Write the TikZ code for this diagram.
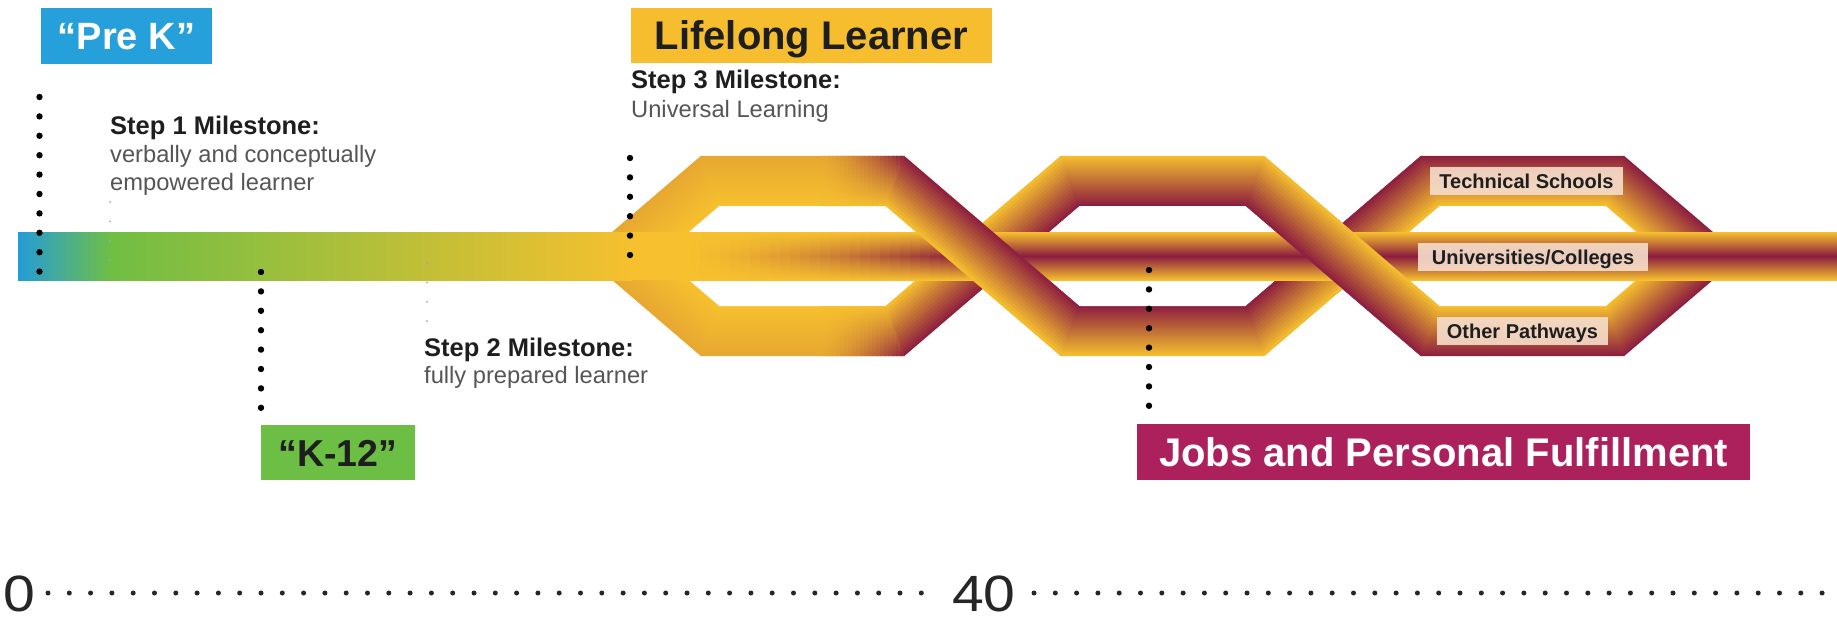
\documentclass[tikz,border=0pt]{standalone}
\usepackage{fontspec}
\setmainfont{Liberation Sans}
\newfontfamily\axisfont{Liberation Sans}[FakeStretch=1.12]
\usetikzlibrary{calc}
\definecolor{bandY}{RGB}{246,192,46}
\definecolor{bandM}{RGB}{140,29,64}
\definecolor{barblue}{RGB}{36,156,214}
\definecolor{bargreen}{RGB}{112,190,68}
\definecolor{preblue}{RGB}{38,160,218}
\definecolor{kgreen}{RGB}{108,190,69}
\definecolor{lgold}{RGB}{246,190,46}
\definecolor{jobsred}{RGB}{172,32,92}
\definecolor{labelfill}{RGB}{246,222,204}
\definecolor{txtdark}{RGB}{30,30,30}
\definecolor{txtgray}{RGB}{85,85,85}
\colorlet{hexoneout}{bandM!15!bandY}

\newcommand{\hexfill}[3]{%
  \pgfmathsetmacro{\hH}{75-(#2)}%
  \pgfmathsetmacro{\hA}{92.5-0.37*(#2)}%
  \pgfmathsetmacro{\hB}{\hA+\hH*7/6}%
  \fill[fill=#3] ({#1-\hB},256) -- ({#1-\hA},{256-\hH}) -- ({#1+\hA},{256-\hH}) -- ({#1+\hB},256) -- ({#1+\hA},{256+\hH}) -- ({#1-\hA},{256+\hH}) -- cycle;%
}
\newcommand{\ringfill}[3]{%
  \foreach \k in {0,...,24}{%
    \pgfmathsetmacro{\ofs}{-25+2*\k}%
    \pgfmathtruncatemacro{\pc}{round(100*(\k+0.5)/25)}%
    \hexfill{#1}{\ofs}{#3!\pc!#2}%
  }%
  \hexfill{#1}{25}{white}%
}
\newcommand{\diagfill}[6]{%
  \foreach \i in {0,...,15}{%
    \pgfmathsetmacro{\fa}{\i/16}%
    \pgfmathsetmacro{\fb}{min(1,(\i+1.4)/16)}%
    \pgfmathtruncatemacro{\pc}{round(100*(\i+0.5)/16)}%
    \fill[fill=#6!\pc!#5] ($(#1)!\fa!(#4)$) -- ($(#1)!\fb!(#4)$) -- ($(#2)!\fb!(#3)$) -- ($(#2)!\fa!(#3)$) -- cycle;%
  }%
}

\tikzset{
  leader/.style={draw=black, line width=6.4pt, line cap=round, dash pattern=on 0pt off 19.4pt},
  faintdots/.style={draw=black!35, line width=2pt, line cap=round, dash pattern=on 0pt off 19.4pt},
  axisdots/.style={draw=black!85, line width=5pt, line cap=round, dash pattern=on 0pt off 21.3pt},
  titlebox/.style={inner sep=0pt, text depth=0pt},
  lbl/.style={fill=labelfill, fill opacity=0.9, text opacity=1, text=txtdark, inner sep=0pt, minimum height=28pt, text height=14.3pt, text depth=0pt, font=\fontsize{20}{22}\selectfont\bfseries},
  steptitle/.style={anchor=base west, inner sep=0pt, text=txtdark, font=\fontsize{25.5}{28}\selectfont\bfseries},
  steptext/.style={anchor=base west, inner sep=0pt, text=txtgray, font=\fontsize{23.7}{28}\selectfont},
  axisnum/.style={anchor=base west, inner sep=0pt, text=black!85, font=\axisfont\fontsize{51}{54}\selectfont},
}

\begin{document}
\begin{tikzpicture}[x=1pt,y=-1pt]
\useasboundingbox (0,0) rectangle (1837,623);
\fill[white] (0,0) rectangle (1837,623);

% ---- hexagon rings ----
\ringfill{802.5}{hexoneout}{bandY}
\ringfill{1162.5}{bandY}{bandM}
\ringfill{1522.5}{bandM}{bandY}

% ---- hex 1 darkening near right corners ----
\begin{scope}
  \clip (700.75,156) -- (904.25,156) -- (885.75,206) -- (719.25,206) -- cycle;
  \foreach \i in {0,...,20}{
    \pgfmathsetmacro{\xa}{820+4*\i}
    \pgfmathtruncatemacro{\pc}{round(15+85*((\i+0.5)/21)^1.6)}
    \shade[top color=bandM!\pc!bandY, bottom color=bandY] (\xa,155) rectangle (\xa+5,207);
  }
\end{scope}
\begin{scope}
  \clip (700.75,356) -- (904.25,356) -- (885.75,306) -- (719.25,306) -- cycle;
  \foreach \i in {0,...,20}{
    \pgfmathsetmacro{\xa}{820+4*\i}
    \pgfmathtruncatemacro{\pc}{round(15+85*((\i+0.5)/21)^1.6)}
    \shade[top color=bandY, bottom color=bandM!\pc!bandY] (\xa,305) rectangle (\xa+5,357);
  }
\end{scope}

% ---- crossing coordinates ----
\coordinate (c1bA) at (904.25,156);  \coordinate (c1bB) at (1079.25,306);
\coordinate (c1bC) at (1060.75,356); \coordinate (c1bD) at (885.75,206);
\coordinate (c1sA) at (904.25,356);  \coordinate (c1sB) at (1079.25,206);
\coordinate (c1sC) at (1060.75,156); \coordinate (c1sD) at (885.75,306);
\coordinate (c2bA) at (1264.25,156); \coordinate (c2bB) at (1439.25,306);
\coordinate (c2bC) at (1420.75,356); \coordinate (c2bD) at (1245.75,206);
\coordinate (c2sA) at (1264.25,356); \coordinate (c2sB) at (1439.25,206);
\coordinate (c2sC) at (1420.75,156); \coordinate (c2sD) at (1245.75,306);

% under-passing diagonals
\diagfill{c1sA}{c1sB}{c1sC}{c1sD}{bandM}{bandY}
\diagfill{c2sA}{c2sB}{c2sC}{c2sD}{bandY}{bandM}

% ---- main bar ----
\shade[left color=barblue, right color=bargreen] (18,232) rectangle (112,280);
\shade[left color=bargreen, right color=bandY] (110,232) rectangle (632,280);
\fill[bandY] (630,232) rectangle (682,280);
\foreach \i in {0,...,27}{
  \pgfmathsetmacro{\xa}{680+10*\i}
  \pgfmathtruncatemacro{\pc}{round(100*((\i+0.5)/28)^1.5)}
  \shade[top color=bandY, bottom color=bandY, middle color=bandM!\pc!bandY] (\xa,232) rectangle (\xa+11,280);
}
\shade[top color=bandY, bottom color=bandY, middle color=bandM] (958,232) rectangle (1837,280);

% over-passing diagonals
\diagfill{c1bA}{c1bB}{c1bC}{c1bD}{bandM}{bandY}
\diagfill{c2bA}{c2bB}{c2bC}{c2bD}{bandY}{bandM}

% ---- pathway labels ----
\node[lbl, minimum width=193pt] (tech) at (1526.5,181) {Technical Schools};
\node[lbl, minimum width=230pt] (univ) at (1533,257) {Universities/Colleges};
\node[lbl, minimum width=171pt] (other) at (1522.5,331) {Other Pathways};

% ---- title boxes ----
\node[titlebox, fill=preblue, minimum width=171pt, minimum height=56pt, text=white, font=\fontsize{38}{40}\selectfont\bfseries, text height=27pt] (prek) at (126.5,36) {“Pre K”};
\node[titlebox, fill=kgreen, minimum width=154pt, minimum height=55pt, text=txtdark, font=\fontsize{37.5}{40}\selectfont\bfseries, text height=27pt] (k12) at (338,452.5) {“K-12”};
\node[titlebox, fill=lgold, minimum width=361pt, minimum height=55pt, text=txtdark, font=\fontsize{40}{42}\selectfont\bfseries, text height=28.6pt] (life) at (811.5,35.5) {Lifelong Learner};
\node[titlebox, fill=jobsred, minimum width=613pt, minimum height=56pt, text=white, font=\fontsize{40}{42}\selectfont\bfseries, text height=28.6pt] (jobs) at (1443.5,452) {Jobs and Personal Fulfillment};

% ---- milestone texts ----
\node[steptitle] (s1a) at (110,135) {Step 1 Milestone:};
\node[steptext] (s1b) at (110,163) {verbally and conceptually};
\node[steptext] (s1c) at (110,190) {empowered learner};
\node[steptitle] (s2a) at (424,356) {Step 2 Milestone:};
\node[steptext] (s2b) at (424,383) {fully prepared learner};
\node[steptitle] (s3a) at (631,89) {Step 3 Milestone:};
\node[steptext] (s3b) at (631,118) {Universal Learning};

% ---- dotted leaders ----
\coordinate (pkA) at (39.5,97);   \coordinate (pkB) at (39.5,271.7);
\coordinate (kA) at (261,272);    \coordinate (kB) at (261,407.9);
\coordinate (lA) at (630,158);    \coordinate (lB) at (630,255.1);
\coordinate (jA) at (1149,270);   \coordinate (jB) at (1149,405.9);
\coordinate (f1A) at (110,202);   \coordinate (f1B) at (110,260.3);
\coordinate (f2A) at (427,263);   \coordinate (f2B) at (427,321.3);
\draw[leader] (pkA) -- (pkB);
\draw[leader] (kA) -- (kB);
\draw[leader] (lA) -- (lB);
\draw[leader] (jA) -- (jB);
\draw[faintdots] (f1A) -- (f1B);
\draw[faintdots] (f2A) -- (f2B);

% ---- age axis ----
\node[axisnum] (n0) at (3,611) {0};
\node[axisnum] (n40) at (952,611) {40};
\coordinate (ax1) at (48,593);   \coordinate (ax2) at (942.1,593);
\coordinate (ax3) at (1034,593); \coordinate (ax4) at (1837,593);
\draw[axisdots] (ax1) -- (ax2);
\draw[axisdots] (ax3) -- (ax4);
\end{tikzpicture}
\end{document}
